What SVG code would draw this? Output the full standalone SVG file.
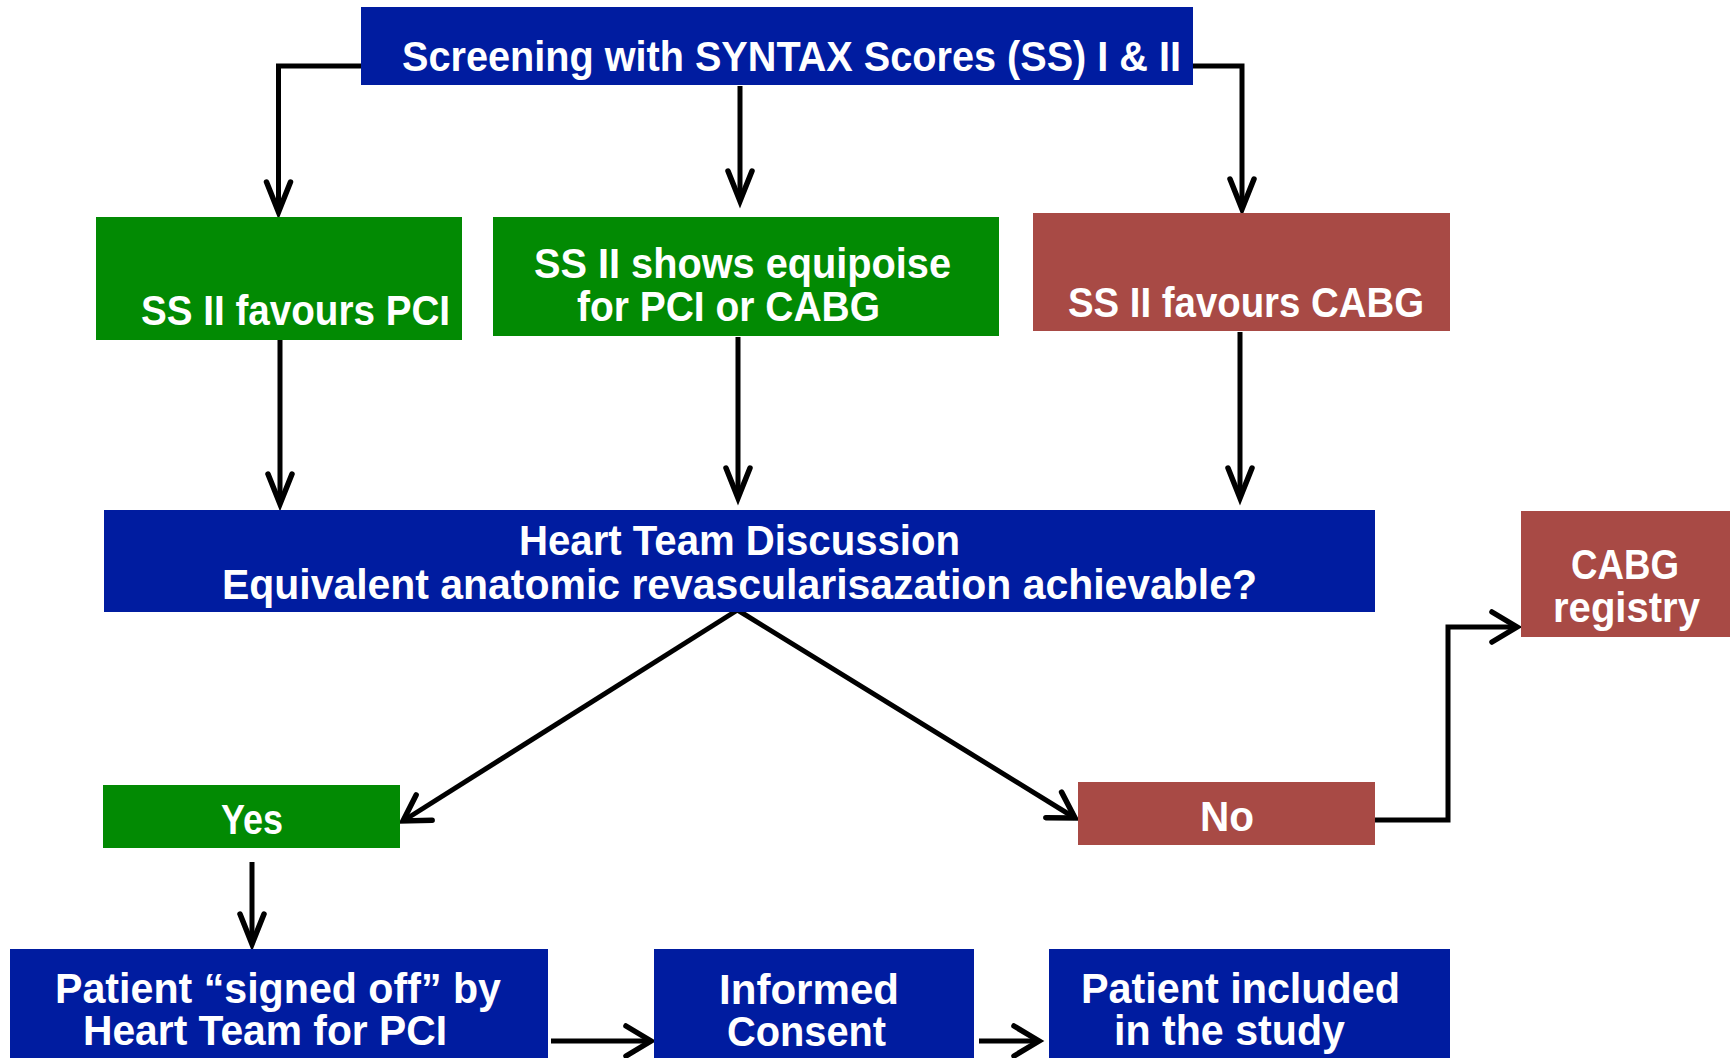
<svg xmlns="http://www.w3.org/2000/svg" width="1736" height="1058" viewBox="0 0 1736 1058">
<style>
.blue{fill:#001CA0}
.green{fill:#028A03}
.red{fill:#A84A45}
text{font-family:"Liberation Sans",Arial,sans-serif;font-weight:bold;font-size:43px;fill:#ffffff}
.c{fill:none;stroke:#000;stroke-width:5;stroke-linejoin:miter}
</style>
<defs>
<marker id="av" markerUnits="userSpaceOnUse" markerWidth="40" markerHeight="40" refX="0" refY="0" viewBox="-34 -20 40 40" orient="auto" overflow="visible">
<path d="M-30,-12 L0,0 L-30,12" fill="none" stroke="#000" stroke-width="5.5" stroke-linecap="round" stroke-linejoin="miter"/>
</marker>
<marker id="ah" markerUnits="userSpaceOnUse" markerWidth="40" markerHeight="40" refX="0" refY="0" viewBox="-30 -20 40 40" orient="auto" overflow="visible">
<path d="M-25,-15 L0,0 L-25,15" fill="none" stroke="#000" stroke-width="5.5" stroke-linecap="round" stroke-linejoin="miter"/>
</marker>
</defs>
<rect width="1736" height="1058" fill="#ffffff"/>

<g id="connectors">
<path class="c" d="M361,66 H278.5 V212" marker-end="url(#av)"/>
<path class="c" d="M1193,66 H1242 V209" marker-end="url(#av)"/>
<path class="c" d="M740,86 V201" marker-end="url(#av)"/>
<path class="c" d="M280,336 V504" marker-end="url(#av)"/>
<path class="c" d="M738,337 V498" marker-end="url(#av)"/>
<path class="c" d="M1240,332 V498" marker-end="url(#av)"/>
<path class="c" d="M737.5,610 L403,821" marker-end="url(#ah)"/>
<path class="c" d="M737.5,610 L1075,818" marker-end="url(#ah)"/>
<path class="c" d="M1375,820 H1448 V627 H1517" marker-end="url(#ah)"/>
<path class="c" d="M252,862 V944" marker-end="url(#av)"/>
<path class="c" d="M551,1041 H651" marker-end="url(#ah)"/>
<path class="c" d="M979,1041 H1039" marker-end="url(#ah)"/>
</g>

<g id="screening">
<rect class="blue" x="361" y="7" width="832" height="78"/>
<text x="402" y="71" textLength="779" lengthAdjust="spacingAndGlyphs">Screening with SYNTAX Scores (SS) I &amp; II</text>
</g>

<g id="favours-pci">
<rect class="green" x="96" y="217" width="366" height="123"/>
<text x="141" y="325" textLength="309" lengthAdjust="spacingAndGlyphs">SS II favours PCI</text>
</g>

<g id="equipoise">
<rect class="green" x="493" y="217" width="506" height="119"/>
<text x="534" y="278" textLength="417" lengthAdjust="spacingAndGlyphs">SS II shows equipoise</text>
<text x="577" y="321" textLength="303" lengthAdjust="spacingAndGlyphs">for PCI or CABG</text>
</g>

<g id="favours-cabg">
<rect class="red" x="1033" y="213" width="417" height="118"/>
<text x="1068" y="317" textLength="356" lengthAdjust="spacingAndGlyphs">SS II favours CABG</text>
</g>

<g id="heart-team">
<rect class="blue" x="104" y="510" width="1271" height="102"/>
<text x="519" y="555" textLength="441" lengthAdjust="spacingAndGlyphs">Heart Team Discussion</text>
<text x="222" y="599" textLength="1035" lengthAdjust="spacingAndGlyphs">Equivalent anatomic revascularisazation achievable?</text>
</g>

<g id="cabg-registry">
<rect class="red" x="1521" y="511" width="209" height="126"/>
<text x="1571" y="579" textLength="108" lengthAdjust="spacingAndGlyphs">CABG</text>
<text x="1553" y="622" textLength="147" lengthAdjust="spacingAndGlyphs">registry</text>
</g>

<g id="yes">
<rect class="green" x="103" y="785" width="297" height="63"/>
<text x="221" y="834" textLength="62" lengthAdjust="spacingAndGlyphs">Yes</text>
</g>

<g id="no">
<rect class="red" x="1078" y="782" width="297" height="63"/>
<text x="1200" y="831" textLength="54" lengthAdjust="spacingAndGlyphs">No</text>
</g>

<g id="signed-off">
<rect class="blue" x="10" y="949" width="538" height="115"/>
<text x="55" y="1003" textLength="446" lengthAdjust="spacingAndGlyphs">Patient “signed off” by</text>
<text x="83" y="1045" textLength="364" lengthAdjust="spacingAndGlyphs">Heart Team for PCI</text>
</g>

<g id="informed-consent">
<rect class="blue" x="654" y="949" width="320" height="115"/>
<text x="719" y="1004" textLength="180" lengthAdjust="spacingAndGlyphs">Informed</text>
<text x="727" y="1046" textLength="159" lengthAdjust="spacingAndGlyphs">Consent</text>
</g>

<g id="included">
<rect class="blue" x="1049" y="949" width="401" height="115"/>
<text x="1081" y="1003" textLength="319" lengthAdjust="spacingAndGlyphs">Patient included</text>
<text x="1114" y="1045" textLength="231" lengthAdjust="spacingAndGlyphs">in the study</text>
</g>
</svg>
